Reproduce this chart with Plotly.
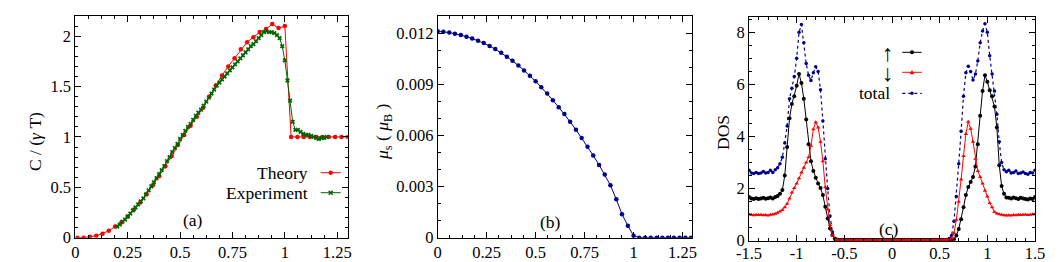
import plotly.graph_objects as go

# ---------------- Panel (a): specific heat ----------------
theory_x = [0.01, 0.04, 0.07, 0.10, 0.13, 0.16, 0.19, 0.22, 0.25, 0.28, 0.31, 0.34, 0.37, 0.40,
            0.43, 0.46, 0.49, 0.52, 0.55, 0.58, 0.61, 0.64, 0.67, 0.70, 0.73, 0.76, 0.79, 0.82,
            0.85, 0.88, 0.91, 0.94, 0.97, 1.00, 1.03, 1.06, 1.09, 1.12, 1.15, 1.18, 1.21, 1.24,
            1.27, 1.30]
theory_y = [0.00, 0.00, 0.01, 0.02, 0.04, 0.07, 0.11, 0.15, 0.21, 0.28, 0.35, 0.43, 0.52, 0.61,
            0.71, 0.81, 0.92, 1.02, 1.11, 1.20, 1.29, 1.40, 1.51, 1.61, 1.70, 1.78, 1.87, 1.94,
            1.99, 2.04, 2.07, 2.12, 2.08, 2.10, 1.00, 1.00, 1.00, 1.00, 1.00, 1.00, 1.00, 1.00,
            1.00, 1.00]

exp_x = [0.2, 0.2125, 0.225, 0.2375, 0.25, 0.2625, 0.275, 0.2875, 0.3, 0.3125,
         0.325, 0.3375, 0.35, 0.3625, 0.375, 0.3875, 0.4, 0.4125, 0.425, 0.4375,
         0.45, 0.4625, 0.475, 0.4875, 0.5, 0.5125, 0.525, 0.5375, 0.55, 0.5625,
         0.575, 0.5875, 0.6, 0.6125, 0.625, 0.6375, 0.65, 0.6625, 0.675, 0.6875,
         0.7, 0.7125, 0.725, 0.7375, 0.75, 0.7625, 0.775, 0.7875, 0.8, 0.8125,
         0.825, 0.8375, 0.85, 0.8625, 0.875, 0.8875, 0.9, 0.9125, 0.925, 0.9375,
         0.95, 0.9625, 0.975, 0.9875, 1.0, 1.0125, 1.025, 1.0375, 1.05, 1.0625,
         1.075, 1.0875, 1.1, 1.1125, 1.125, 1.1375, 1.15, 1.1625, 1.175, 1.1875,
         1.2]
exp_y = [0.11, 0.13, 0.16, 0.18, 0.21, 0.24, 0.27, 0.30, 0.33, 0.36,
         0.39, 0.43, 0.47, 0.51, 0.55, 0.59, 0.63, 0.67, 0.71, 0.76,
         0.80, 0.85, 0.89, 0.93, 0.98, 1.02, 1.06, 1.10, 1.13, 1.17,
         1.21, 1.24, 1.27, 1.31, 1.35, 1.39, 1.43, 1.47, 1.51, 1.54,
         1.57, 1.60, 1.63, 1.66, 1.69, 1.72, 1.75, 1.78, 1.81, 1.84,
         1.87, 1.90, 1.92, 1.95, 1.98, 2.01, 2.04, 2.05, 2.04, 2.04,
         2.03, 2.01, 1.98, 1.90, 1.76, 1.56, 1.36, 1.15, 1.07, 1.07,
         1.05, 1.03, 1.02, 1.02, 1.01, 1.00, 0.99, 0.98, 0.99, 0.99,
         1.00]

# ---------------- Panel (b): staggered moment ----------------
mu_x = [0.0, 0.029, 0.059, 0.088, 0.118, 0.147, 0.176, 0.206, 0.235, 0.265, 0.294, 0.324,
        0.353, 0.382, 0.412, 0.441, 0.471, 0.5, 0.529, 0.559, 0.588, 0.618, 0.647, 0.676,
        0.706, 0.735, 0.765, 0.794, 0.824, 0.853, 0.882, 0.912, 0.941, 0.971, 1.0, 1.029,
        1.059, 1.088, 1.118, 1.147, 1.176, 1.206, 1.235, 1.265, 1.294]
mu_y = [0.01210, 0.01208, 0.01203, 0.01196, 0.01188, 0.01179, 0.01168, 0.01155, 0.01141,
        0.01124, 0.01106, 0.01084, 0.01061, 0.01037, 0.01010, 0.00981, 0.00950, 0.00917,
        0.00882, 0.00845, 0.00806, 0.00765, 0.00725, 0.00680, 0.00633, 0.00585, 0.00534,
        0.00482, 0.00427, 0.00371, 0.00307, 0.00225, 0.00138, 0.00070, 0.00012, 0.0,
        0.0, 0.0, 0.0, 0.0, 0.0, 0.0, 0.0, 0.0, 0.0]

# ---------------- Panel (c): density of states ----------------
dos_x = [-1.5, -1.475, -1.45, -1.425, -1.4, -1.375, -1.35, -1.325, -1.3, -1.275, -1.25, -1.225,
         -1.2, -1.175, -1.15, -1.125, -1.1, -1.075, -1.05, -1.025, -1.0, -0.975, -0.95, -0.925,
         -0.9, -0.875, -0.85, -0.825, -0.8, -0.775, -0.75, -0.725, -0.7, -0.675, -0.65, -0.625,
         -0.6, -0.575, -0.55, -0.525, -0.5, -0.475, -0.45, -0.425, -0.4, -0.375, -0.35, -0.325,
         -0.3, -0.275, -0.25, -0.225, -0.2, -0.175, -0.15, -0.125, -0.1, -0.075, -0.05, -0.025,
         0.0, 0.025, 0.05, 0.075, 0.1, 0.125, 0.15, 0.175, 0.2, 0.225, 0.25, 0.275,
         0.3, 0.325, 0.35, 0.375, 0.4, 0.425, 0.45, 0.475, 0.5, 0.525, 0.55, 0.575,
         0.6, 0.625, 0.65, 0.675, 0.7, 0.725, 0.75, 0.775, 0.8, 0.825, 0.85, 0.875,
         0.9, 0.925, 0.95, 0.975, 1.0, 1.025, 1.05, 1.075, 1.1, 1.125, 1.15, 1.175,
         1.2, 1.225, 1.25, 1.275, 1.3, 1.325, 1.35, 1.375, 1.4, 1.425, 1.45, 1.475, 1.5]
dos_up = [1.68, 1.62, 1.60, 1.63, 1.60, 1.62, 1.65, 1.61, 1.63, 1.66, 1.62, 1.68,
          1.72, 1.80, 1.95, 2.50, 3.60, 4.70, 5.25, 5.55, 5.95, 6.40,
          6.05, 5.45, 4.65, 3.70, 3.05, 2.68, 2.42, 2.20, 2.02, 1.75,
          1.30, 0.85, 0.47, 0.22, 0.08, 0.04,
          0.03, 0.03, 0.03, 0.03, 0.03, 0.03, 0.03, 0.03, 0.03, 0.03, 0.03, 0.03, 0.03, 0.03, 0.03,
          0.03, 0.03, 0.03, 0.03, 0.03, 0.03, 0.03, 0.03, 0.03, 0.03, 0.03, 0.03, 0.03, 0.03, 0.03,
          0.03, 0.03, 0.03, 0.03, 0.03, 0.03, 0.03, 0.03, 0.03, 0.03, 0.03, 0.03, 0.03, 0.03, 0.03,
          0.03, 0.03, 0.03, 0.06, 0.20, 0.45, 0.82, 1.28, 1.75, 2.06,
          2.25, 2.45, 2.85, 3.70, 4.80, 5.75, 6.35, 6.10, 5.78, 5.55,
          5.15, 4.35, 2.90, 2.10, 1.80, 1.66,
          1.65, 1.62, 1.66, 1.63, 1.60, 1.65, 1.62, 1.60, 1.58, 1.62, 1.60, 1.68]
dos_dn = [1.02, 1.00, 0.98, 1.00, 0.99, 1.00, 0.98, 0.99, 0.97, 1.00, 1.01, 1.03,
          1.07, 1.12, 1.18, 1.28, 1.42, 1.62, 1.85, 2.02, 2.20, 2.40,
          2.62, 2.80, 3.00, 3.20, 3.65, 4.28, 4.55, 4.35, 3.80, 3.05,
          2.05, 1.20, 0.60, 0.20, 0.06, 0.03,
          0.02, 0.02, 0.02, 0.02, 0.02, 0.02, 0.02, 0.02, 0.02, 0.02, 0.02, 0.02, 0.02, 0.02, 0.02,
          0.02, 0.02, 0.02, 0.02, 0.02, 0.02, 0.02, 0.02, 0.02, 0.02, 0.02, 0.02, 0.02, 0.02, 0.02,
          0.02, 0.02, 0.02, 0.02, 0.02, 0.02, 0.02, 0.02, 0.02, 0.02, 0.02, 0.02, 0.02, 0.02, 0.02,
          0.03, 0.04, 0.08, 0.30, 0.80, 1.50, 2.35, 3.25, 4.10, 4.57,
          4.30, 3.80, 3.15, 2.68, 2.45, 2.20, 1.92, 1.70, 1.45, 1.28,
          1.10, 1.04, 1.02, 1.00, 0.98, 0.97,
          0.98, 0.97, 0.99, 0.98, 1.00, 0.99, 1.00, 1.01, 0.99, 1.00, 1.02, 1.02]
dos_tot = [2.70, 2.60, 2.58, 2.62, 2.58, 2.60, 2.66, 2.60, 2.62, 2.70, 2.62, 2.72,
           2.80, 2.95, 3.20, 3.75, 4.40, 5.45, 5.85, 6.30, 7.00, 8.00,
           8.30, 7.60, 6.80, 6.35, 6.15, 6.45, 6.68, 6.50, 5.80, 4.60,
           3.15, 2.00, 0.95, 0.33, 0.07, 0.05,
           0.04, 0.04, 0.04, 0.04, 0.04, 0.04, 0.04, 0.04, 0.04, 0.04, 0.04, 0.04, 0.04, 0.04, 0.04,
           0.04, 0.04, 0.04, 0.04, 0.04, 0.04, 0.04, 0.04, 0.04, 0.04, 0.04, 0.04, 0.04, 0.04, 0.04,
           0.04, 0.04, 0.04, 0.04, 0.04, 0.04, 0.04, 0.04, 0.04, 0.04, 0.04, 0.04, 0.04, 0.04, 0.04,
           0.05, 0.08, 0.20, 0.75, 1.70, 2.95, 4.20, 5.55, 6.45, 6.70,
           6.50, 6.17, 6.40, 6.90, 7.60, 8.05, 8.33, 8.00, 7.10, 6.40,
           5.75, 4.85, 3.80, 3.00, 2.72, 2.65,
           2.70, 2.60, 2.62, 2.68, 2.58, 2.60, 2.64, 2.58, 2.55, 2.62, 2.60, 2.70]

RED = "#ff0000"
GREEN = "#006400"
BLUE = "#00008b"
BLACK = "#000000"
FONT = "Liberation Serif"
FS = 16.5      # tick labels
FT = 17.5      # other text
W, H = 1060, 262


def px(x):
    return x / W


def py(y):
    return 1 - y / H


fig = go.Figure()

fig.add_trace(go.Scatter(x=theory_x, y=theory_y, mode="lines+markers", xaxis="x", yaxis="y",
                         line=dict(color=RED, width=1), marker=dict(color=RED, size=4.5, symbol="circle")))
fig.add_trace(go.Scatter(x=exp_x, y=exp_y, mode="lines+markers", xaxis="x", yaxis="y",
                         line=dict(color=GREEN, width=1), marker=dict(color=GREEN, size=4.2, symbol="x")))
fig.add_trace(go.Scatter(x=mu_x, y=mu_y, mode="lines+markers", xaxis="x2", yaxis="y2",
                         line=dict(color=BLUE, width=1), marker=dict(color=BLUE, size=4.5, symbol="circle")))
fig.add_trace(go.Scatter(x=dos_x, y=dos_tot, mode="lines+markers", xaxis="x3", yaxis="y3",
                         line=dict(color=BLUE, width=1.2, dash="dot"), marker=dict(color=BLUE, size=3.5, symbol="circle")))
fig.add_trace(go.Scatter(x=dos_x, y=dos_up, mode="lines+markers", xaxis="x3", yaxis="y3",
                         line=dict(color=BLACK, width=1), marker=dict(color=BLACK, size=4, symbol="circle")))
fig.add_trace(go.Scatter(x=dos_x, y=dos_dn, mode="lines+markers", xaxis="x3", yaxis="y3",
                         line=dict(color=RED, width=1), marker=dict(color=RED, size=4, symbol="triangle-up")))

axis_common = dict(showline=True, linecolor="black", linewidth=1, mirror="ticks", ticks="inside",
                   ticklen=6, tickcolor="black", showgrid=False, zeroline=False, automargin=False,
                   tickfont=dict(family=FONT, size=FS, color="black"))


def minor(dt):
    return dict(dtick=dt, ticks="inside", ticklen=3, tickcolor="black", showgrid=False)


ya_dom = [(H - 237.7) / H, (H - 16) / H]
yc_dom = [(H - 240.7) / H, (H - 16.7) / H]

fig.update_layout(
    width=W, height=H, margin=dict(l=0, r=0, t=0, b=0, autoexpand=False),
    paper_bgcolor="white", plot_bgcolor="white", showlegend=False,
    xaxis=dict(domain=[75.3 / W, 347.7 / W], range=[0, 1.3], anchor="y", ticklabelstandoff=-1,
               tickvals=[0, 0.25, 0.5, 0.75, 1, 1.25], ticktext=["0", "0.25", "0.5", "0.75", "1", "1.25"],
               minor=minor(0.0625), **axis_common),
    yaxis=dict(domain=ya_dom, range=[0, 2.2], anchor="x",
               tickvals=[0, 0.5, 1, 1.5, 2], ticktext=["0", "0.5", "1", "1.5", "2"],
               minor=minor(0.1), **axis_common),
    xaxis2=dict(domain=[437.7 / W, 692.3 / W], range=[0, 1.3], anchor="y2", ticklabelstandoff=-1,
                tickvals=[0, 0.25, 0.5, 0.75, 1, 1.25], ticktext=["0", "0.25", "0.5", "0.75", "1", "1.25"],
                minor=minor(0.0625), **axis_common),
    yaxis2=dict(domain=ya_dom, range=[0, 0.013], anchor="x2",
                tickvals=[0, 0.003, 0.006, 0.009, 0.012], ticktext=["0", "0.003", "0.006", "0.009", "0.012"],
                minor=minor(0.001), **axis_common),
    xaxis3=dict(domain=[749 / W, 1035 / W], range=[-1.5, 1.5], anchor="y3", ticklabelstandoff=-3,
                tickvals=[-1.5, -1, -0.5, 0, 0.5, 1, 1.5], ticktext=["-1.5", "-1", "-0.5", "0", "0.5", "1", "1.5"],
                minor=minor(0.1), **axis_common),
    yaxis3=dict(domain=yc_dom, range=[0, 8.6], anchor="x3",
                tickvals=[0, 2, 4, 6, 8], ticktext=["0", "2", "4", "6", "8"],
                minor=minor(0.5), **axis_common),
)

ann = []


def text(x, y, t, xanchor="center", angle=0, size=FT):
    ann.append(dict(x=px(x), y=py(y), xref="paper", yref="paper", text=t, showarrow=False,
                    xanchor=xanchor, yanchor="middle", textangle=angle,
                    font=dict(family=FONT, size=size, color="black")))


text(35, 142, "C / (<i>γ</i> T)", angle=-90)
text(383, 132, "<i>μ</i><sub>s</sub> ( <i>μ</i><sub>B</sub> )", angle=-90)
text(723, 133, "DOS", angle=-90)
text(192.7, 220, "(a)")
text(550, 221.7, "(b)")
text(889, 229.3, "(c)")
text(310, 172.7, "Theory", xanchor="right")
text(309.5, 192.7, "Experiment", xanchor="right")
text(887.7, 53, "↑", size=23)
text(887.7, 73.5, "↓", size=23)
text(891.7, 93.3, "total", xanchor="right")

shapes = []


def hline(x0, x1, y, color, dash="solid", width=1):
    shapes.append(dict(type="line", xref="paper", yref="paper", x0=px(x0), x1=px(x1), y0=py(y), y1=py(y),
                       line=dict(color=color, width=width, dash=dash)))


def dot(x, y, r, color):
    shapes.append(dict(type="circle", xref="paper", yref="paper", x0=px(x - r), x1=px(x + r),
                       y0=py(y + r), y1=py(y - r), fillcolor=color, line=dict(color=color, width=0)))


def cross(x, y, r, color):
    for s in (1, -1):
        shapes.append(dict(type="line", xref="paper", yref="paper", x0=px(x - r), x1=px(x + r),
                           y0=py(y - s * r), y1=py(y + s * r), line=dict(color=color, width=1.5)))


def tri(x, y, r, color):
    path = "M {:.5f},{:.5f} L {:.5f},{:.5f} L {:.5f},{:.5f} Z".format(
        px(x), py(y - r), px(x - r), py(y + r * 0.8), px(x + r), py(y + r * 0.8))
    shapes.append(dict(type="path", xref="paper", yref="paper", path=path, fillcolor=color,
                       line=dict(color=color, width=0)))


hline(320.7, 340.7, 172.7, RED)
dot(330.7, 172.7, 2.2, RED)
hline(320.7, 340.7, 192.7, GREEN)
cross(330.7, 192.7, 2.0, GREEN)
hline(902.3, 921.7, 52.3, BLACK)
dot(912, 52.3, 2, BLACK)
hline(902.3, 921.7, 72.3, RED)
tri(912, 72.3, 2.3, RED)
hline(902.3, 921.7, 93.3, BLUE, dash="dot", width=1.2)
dot(912, 93.3, 1.7, BLUE)

fig.update_layout(annotations=ann, shapes=shapes)

fig.write_html("out.html")
